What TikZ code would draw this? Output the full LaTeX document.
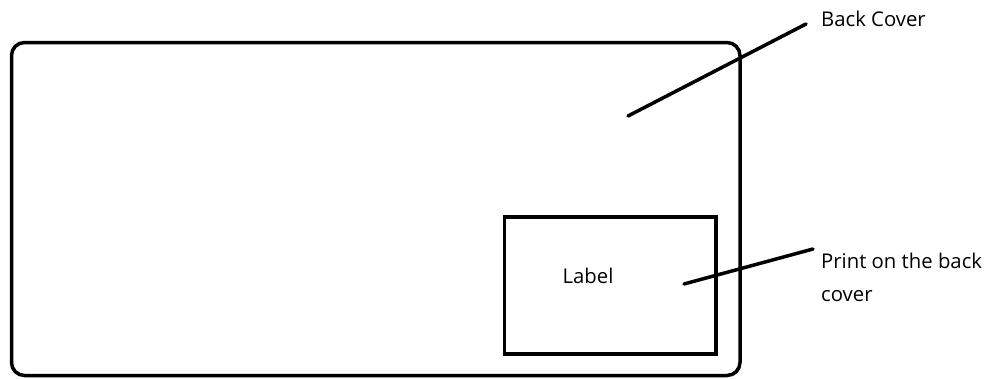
\documentclass[tikz,border=0pt]{standalone}
\usepackage{fontspec}
\setmainfont{Open Sans}
\usepackage{tikz}
\usetikzlibrary{calc}

\begin{document}
\begin{tikzpicture}[x=1pt,y=-1pt,
        outline/.style={draw,line width=3.5pt},
        pointer/.style={line width=3.5pt,line cap=round},
        txt/.style={font=\fontsize{20.3}{33}\selectfont,inner sep=0pt}]
            \useasboundingbox (0,0) rectangle (989,378);
            \draw[outline,rounded corners=13pt] (11.5,42.5) rectangle (740,375.5);
            \node[outline,minimum width=211.5pt,minimum height=137pt,inner sep=0pt] (labelbox) at (610.25,285.5) {};
            \node[txt] (labeltxt) at (588,276) {Label};
            \node[txt,anchor=west] (backtxt) at (821,19) {Back Cover};
            \node[txt,anchor=north west,align=left] (printtxt) at (821,253) {Print on the back\\cover};
            \coordinate (backA) at (628,116);
            \coordinate (backB) at (806,24);
            \coordinate (printA) at (684,284);
            \coordinate (printB) at (813,249);
            \draw[pointer] (backA) -- (backB);
            \draw[pointer] (printA) -- (printB);
        \end{tikzpicture}
\end{document}
